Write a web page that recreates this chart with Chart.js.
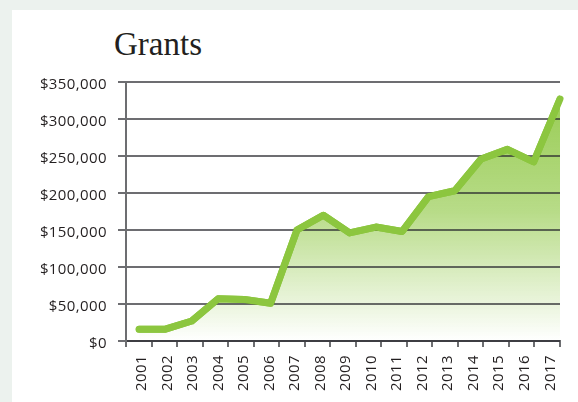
<!DOCTYPE html>
<html>
<head>
<meta charset="utf-8">
<script src="https://cdn.jsdelivr.net/npm/chart.js@4"></script>
<style>
  html, body { margin: 0; padding: 0; background: #ecf2ee; }
  #wrap { position: relative; width: 578px; height: 402px; overflow: hidden; }
  #panel { position: absolute; left: 12px; top: 10px; right: 0; bottom: 0; background: #fff; }
  #title { position: absolute; left: 114px; top: 28px; font: 33px/33px "Liberation Serif", serif; color: #231f20; }
  #myChart { position: absolute; left: 0; top: 0; }
</style>
</head>
<body>
<div id="wrap">
  <div id="panel"></div>
  <div id="title">Grants</div>
  <canvas id="myChart" width="578" height="402"></canvas>
</div>
<script>
// years along the bottom
var years = ["2001", "2002", "2003", "2004", "2005", "2006", "2007", "2008", "2009",
             "2010", "2011", "2012", "2013", "2014", "2015", "2016", "2017"];
// grant totals in dollars
var grants = [16000, 16000, 27000, 57000, 56000, 51000, 150000, 170000, 146000,
              154000, 148000, 195000, 203000, 246000, 259000, 242000, 327000];
var yTicks = [0, 50000, 100000, 150000, 200000, 250000, 300000, 350000];

var green = "rgb(140, 198, 63)";
var gray = "#6d6e71";
var textFont = { family: "Open Sans", size: 15 };

// a little letter spacing, the original type is wide
var spacing = {
    id: "spacing",
    beforeLayout: function (chart) { chart.ctx.letterSpacing = "0.4px"; },
    beforeDraw: function (chart) { chart.ctx.letterSpacing = "0.4px"; }
};

// redraw the line on top of the grid (grid sits over the fill)
var lineOnTop = {
    id: "lineOnTop",
    afterDraw: function (chart) {
        chart.getDatasetMeta(0).controller.draw();
    }
};

function createAreaChart(myChart, labels, values) {
    var ctx = myChart.getContext("2d");
    var points = values.map(function (v, i) { return { x: Number(labels[i]), y: v }; });

    new Chart(ctx, {
        type: "line",
        data: {
            datasets: [{
                label: "Grants",
                data: points,
                xAxisID: "x",
                yAxisID: "y",
                borderColor: green,
                borderWidth: 7,
                borderCapStyle: "round",
                borderJoinStyle: "round",
                pointRadius: 0,
                tension: 0,
                fill: "origin",
                backgroundColor: function (c) {
                    var area = c.chart.chartArea;
                    if (!area) return "rgba(140,198,63,0.5)";
                    var g = c.chart.ctx.createLinearGradient(0, area.top, 0, area.bottom);
                    g.addColorStop(0, "rgba(140,198,63,0.92)");
                    g.addColorStop(0.5, "rgba(140,198,63,0.62)");
                    g.addColorStop(1, "rgba(140,198,63,0.0)");
                    return g;
                }
            }]
        },
        options: {
            responsive: false,
            animation: false,
            layout: { padding: { left: 0, right: 18, top: 82, bottom: 0 } },
            plugins: { legend: { display: false }, tooltip: { enabled: false }, title: { display: false } },
            scales: {
                x: {
                    type: "linear",
                    display: false,
                    min: 2000.5,
                    max: 2017
                },
                xCat: {
                    type: "category",
                    position: "bottom",
                    labels: labels,
                    offset: true,
                    grid: { offset: true, drawOnChartArea: false, drawTicks: true, tickLength: 6, color: gray, lineWidth: 2 },
                    border: { display: true, color: gray, width: 2 },
                    ticks: { minRotation: 90, maxRotation: 90, autoSkip: false, padding: 8, labelOffset: 3, color: "#231f20", font: textFont },
                    afterFit: function (scale) { scale.height = 61; }
                },
                y: {
                    min: 0,
                    max: 350000,
                    afterBuildTicks: function (scale) {
                        scale.ticks = yTicks.map(function (v) { return { value: v }; });
                    },
                    grid: { color: "rgba(40,40,45,0.68)", lineWidth: 2, tickLength: 8, z: 1 },
                    border: { display: true, color: gray, width: 2, z: 1 },
                    ticks: {
                        padding: 11,
                        labelOffset: 3,
                        color: "#231f20",
                        font: textFont,
                        callback: function (v) { return "$" + Number(v).toLocaleString("en-US"); }
                    },
                    afterFit: function (scale) { scale.width = 126; }
                }
            }
        },
        plugins: [spacing, lineOnTop]
    });
}

createAreaChart(document.getElementById("myChart"), years, grants);
</script>
</body>
</html>
